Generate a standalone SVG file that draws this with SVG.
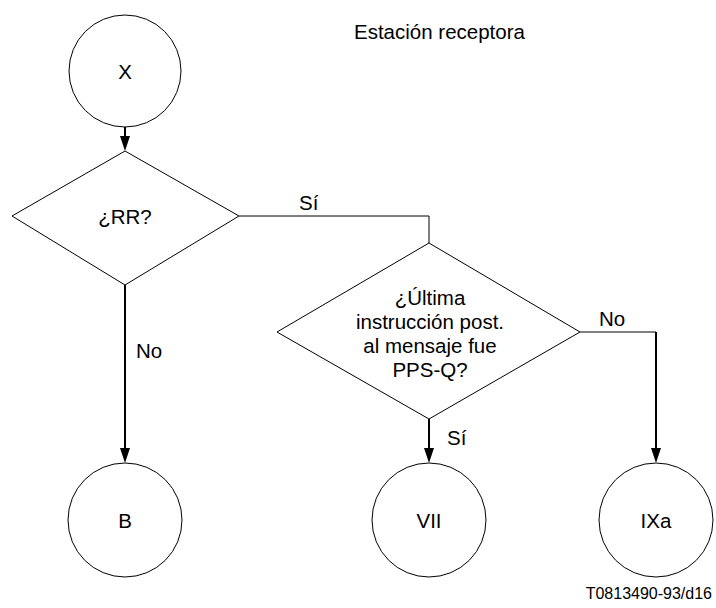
<svg xmlns="http://www.w3.org/2000/svg" width="716" height="608" viewBox="0 0 716 608">
  <style>
    .shape { fill: #ffffff; stroke: #000000; stroke-width: 1; }
    .line { fill: none; stroke: #000000; stroke-width: 2; }
    .link { fill: none; stroke: #000000; stroke-width: 1; }
    text { font-family: "Liberation Sans", Arial, sans-serif; font-size: 20.5px; fill: #000000; }
    .mid { text-anchor: middle; dominant-baseline: central; }
    .ref { font-size: 16px; text-anchor: end; }
  </style>
  <rect width="716" height="608" fill="#ffffff"/>

  <text x="354" y="39">Estación receptora</text>

  <g id="connectors">
    <line class="line" x1="125" y1="126" x2="125" y2="136"/>
    <path d="M120,136 L130,136 L125,151 Z"/>
    <line class="line" x1="125" y1="285" x2="125" y2="448"/>
    <path d="M120,448 L130,448 L125,463 Z"/>
    <polyline class="link" points="239,216 429,216 429,243"/>
    <line class="line" x1="429" y1="419" x2="429" y2="448"/>
    <path d="M424,448 L434,448 L429,463 Z"/>
    <polyline class="link" points="580,332 656,332 656,448"/>
    <line class="line" x1="656" y1="332" x2="656" y2="448"/>
    <path d="M651,448 L661,448 L656,463 Z"/>
    <text x="299" y="210">Sí</text>
    <text x="136" y="358">No</text>
    <text x="447" y="445">Sí</text>
    <text x="599" y="326">No</text>
  </g>

  <g id="node-x">
    <circle class="shape" cx="125" cy="71" r="56"/>
    <text class="mid" x="125" y="71">X</text>
  </g>

  <g id="node-rr">
    <polygon class="shape" points="125,151 239,216 125,285 12,216"/>
    <text class="mid" x="125" y="216">¿RR?</text>
  </g>

  <g id="node-ultima">
    <polygon class="shape" points="429,243 580,332 429,419 277,332"/>
    <text class="mid" x="430" y="297">¿Última</text>
    <text class="mid" x="430" y="321">instrucción post.</text>
    <text class="mid" x="430" y="345">al mensaje fue</text>
    <text class="mid" x="430" y="369">PPS-Q?</text>
  </g>

  <g id="node-b">
    <circle class="shape" cx="125" cy="520" r="57"/>
    <text class="mid" x="125" y="520">B</text>
  </g>

  <g id="node-vii">
    <circle class="shape" cx="429" cy="520" r="57"/>
    <text class="mid" x="429" y="520">VII</text>
  </g>

  <g id="node-ixa">
    <circle class="shape" cx="656" cy="520" r="57"/>
    <text class="mid" x="656" y="520">IXa</text>
  </g>

  <text class="ref" x="712" y="599">T0813490-93/d16</text>
</svg>
